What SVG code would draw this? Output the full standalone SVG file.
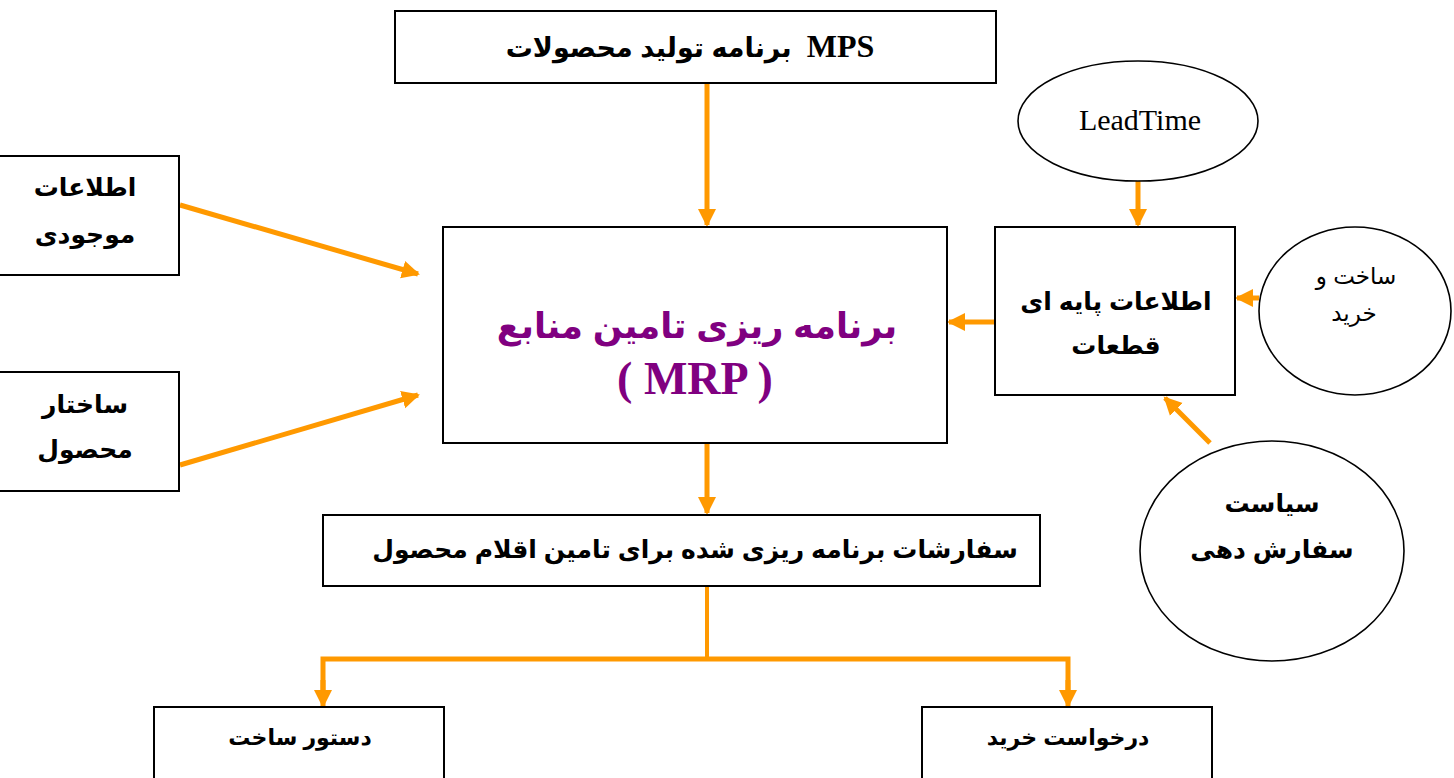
<svg xmlns="http://www.w3.org/2000/svg" width="1454" height="778" viewBox="0 0 1454 778">
  <defs>
    <style>
      .box { fill: #ffffff; stroke: #000000; stroke-width: 2; }
      .oval { fill: #ffffff; stroke: #000000; stroke-width: 1.6; }
      .link { fill: none; stroke: #FF9900; stroke-width: 5; }
      .t { font-family: "Liberation Sans", "DejaVu Sans", "Noto Sans", sans-serif; font-weight: bold; fill: #000000; text-anchor: middle; direction: rtl; }
      .tr { font-family: "Liberation Sans", "DejaVu Sans", "Noto Sans", sans-serif; font-weight: normal; fill: #000000; text-anchor: middle; direction: rtl; }
      .serif { font-family: "Liberation Serif", "DejaVu Serif", serif; }
      .mrp { fill: #800080; }
    </style>
    <marker id="head" markerWidth="20" markerHeight="20" refX="16" refY="10" orient="auto" markerUnits="userSpaceOnUse">
      <path d="M0,1 L18,10 L0,19 Z" fill="#FF9900"/>
    </marker>
  </defs>

  <!-- connectors -->
  <g id="connectors">
    <line class="link" x1="707" y1="83" x2="707" y2="225" marker-end="url(#head)"/>
    <line class="link" x1="180" y1="205" x2="418" y2="274" marker-end="url(#head)"/>
    <line class="link" x1="180" y1="465" x2="418" y2="395" marker-end="url(#head)"/>
    <line class="link" x1="1138" y1="180" x2="1138" y2="225" marker-end="url(#head)"/>
    <line class="link" x1="995" y1="322" x2="949" y2="322" marker-end="url(#head)"/>
    <line class="link" x1="1259" y1="298" x2="1237" y2="298" marker-end="url(#head)"/>
    <line class="link" x1="1210" y1="443" x2="1165" y2="398" marker-end="url(#head)"/>
    <line class="link" x1="707" y1="443" x2="707" y2="513" marker-end="url(#head)"/>
    <polyline class="link" points="707,586 707,659" style="stroke-width:4"/>
    <polyline class="link" points="323,690 323,659 1068,659 1068,690"/>
    <line class="link" x1="323" y1="680" x2="323" y2="706" marker-end="url(#head)"/>
    <line class="link" x1="1068" y1="680" x2="1068" y2="706" marker-end="url(#head)"/>
  </g>

  <!-- master production schedule -->
  <g id="mps">
    <rect class="box" x="395" y="11" width="601" height="72"/>
    <text class="t" x="690" y="57" font-size="27" xml:space="preserve"><tspan class="serif" font-size="32">MPS</tspan>  برنامه تولید محصولات</text>
  </g>

  <!-- inventory info -->
  <g id="inventory">
    <rect class="box" x="-2" y="156" width="181" height="119"/>
    <text class="t" x="85" y="196" font-size="25">اطلاعات</text>
    <text class="t" x="85" y="243" font-size="25">موجودی</text>
  </g>

  <!-- product structure -->
  <g id="structure">
    <rect class="box" x="-2" y="372" width="181" height="119"/>
    <text class="t" x="85" y="413" font-size="25">ساختار</text>
    <text class="t" x="85" y="458" font-size="25">محصول</text>
  </g>

  <!-- MRP core -->
  <g id="mrp">
    <rect class="box" x="443" y="227" width="504" height="216"/>
    <text class="t mrp" x="697" y="338" font-size="35">برنامه ریزی تامین منابع</text>
    <text class="t mrp serif" x="695" y="394" font-size="46" style="direction:ltr">( MRP )</text>
  </g>

  <!-- lead time -->
  <g id="leadtime">
    <ellipse class="oval" cx="1138" cy="121" rx="120" ry="60"/>
    <text class="tr serif" x="1140" y="130" font-size="30" style="direction:ltr">LeadTime</text>
  </g>

  <!-- part master data -->
  <g id="parts">
    <rect class="box" x="995" y="227" width="240" height="168"/>
    <text class="t" x="1116" y="310" font-size="25">اطلاعات پایه ای</text>
    <text class="t" x="1116" y="354" font-size="25">قطعات</text>
  </g>

  <!-- make or buy -->
  <g id="makebuy">
    <ellipse class="oval" cx="1355" cy="311" rx="96" ry="84"/>
    <text class="tr" x="1356" y="284" font-size="23">ساخت و</text>
    <text class="tr" x="1354" y="321" font-size="23">خرید</text>
  </g>

  <!-- ordering policy -->
  <g id="policy">
    <ellipse class="oval" cx="1272" cy="551" rx="132" ry="110"/>
    <text class="t" x="1272" y="512" font-size="25">سیاست</text>
    <text class="t" x="1272" y="558" font-size="25">سفارش دهی</text>
  </g>

  <!-- planned orders -->
  <g id="orders">
    <rect class="box" x="323" y="515" width="717" height="71"/>
    <text class="t" x="695" y="558" font-size="25">سفارشات برنامه ریزی شده برای تامین اقلام محصول</text>
  </g>

  <!-- work order -->
  <g id="workorder">
    <rect class="box" x="154" y="707" width="290" height="80"/>
    <text class="t" x="300" y="745" font-size="22">دستور ساخت</text>
  </g>

  <!-- purchase request -->
  <g id="purchase">
    <rect class="box" x="922" y="707" width="290" height="80"/>
    <text class="t" x="1068" y="745" font-size="22">درخواست خرید</text>
  </g>
</svg>
